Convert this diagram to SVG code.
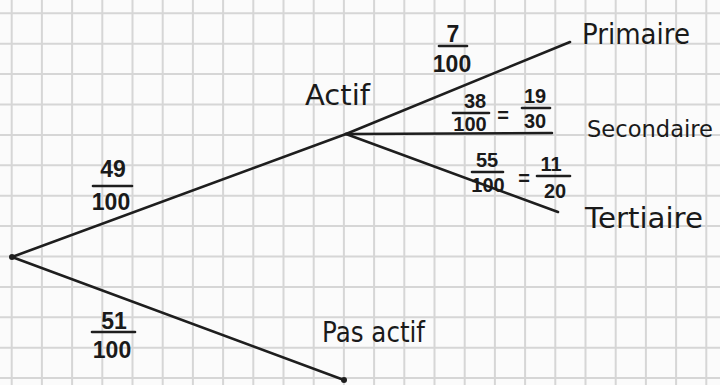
<svg xmlns="http://www.w3.org/2000/svg" width="720" height="385" viewBox="0 0 720 385">
<style>
.grid{stroke:#d6d6d6;stroke-width:2;fill:none}
.edge{stroke:#1e1e1e;stroke-width:2.6;fill:none;stroke-linecap:round}
.bar{stroke:#1e1e1e;stroke-width:2.6;stroke-linecap:round}
.lbl{font-family:"DejaVu Sans","Liberation Sans",sans-serif;fill:#1a1a1a;font-size:28px}
.num{font-family:"Liberation Sans","DejaVu Sans",sans-serif;fill:#1a1a1a;font-size:23px;font-weight:bold;text-anchor:middle}
.sm{font-size:20px}
.dot{fill:#1e1e1e}
</style>
<rect x="0" y="0" width="720" height="385" fill="#fbfbfb"/>
<path class="grid" d="M11.7 0V385M41.9 0V385M72.1 0V385M102.3 0V385M132.5 0V385M162.7 0V385M192.9 0V385M223.1 0V385M253.3 0V385M283.5 0V385M313.7 0V385M343.9 0V385M374.1 0V385M404.3 0V385M434.5 0V385M464.7 0V385M494.9 0V385M525.1 0V385M555.3 0V385M585.5 0V385M615.7 0V385M645.9 0V385M676.1 0V385M706.3 0V385M0 13.3H720M0 43.7H720M0 74.1H720M0 104.5H720M0 134.9H720M0 165.3H720M0 195.7H720M0 226.1H720M0 256.5H720M0 286.9H720M0 317.3H720M0 347.7H720M0 378.1H720"/>
<g id="connectors">
  <line class="edge" x1="12" y1="257" x2="346" y2="134"/>
  <line class="edge" x1="12" y1="257" x2="344" y2="380"/>
  <line class="edge" x1="346" y1="134" x2="570" y2="42"/>
  <line class="edge" x1="346" y1="134" x2="552" y2="133"/>
  <line class="edge" x1="346" y1="134" x2="558" y2="212"/>
  <g id="p-actif">
    <text class="num" x="113" y="177">49</text>
    <line class="bar" x1="93" y1="186" x2="132" y2="186"/>
    <text class="num" x="111" y="210">100</text>
  </g>
  <g id="p-pasactif">
    <text class="num" x="114" y="329">51</text>
    <line class="bar" x1="92" y1="332" x2="135" y2="332"/>
    <text class="num" x="112" y="358">100</text>
  </g>
  <g id="p-primaire">
    <text class="num" x="453" y="42">7</text>
    <line class="bar" x1="439" y1="46" x2="467" y2="46"/>
    <text class="num" x="452" y="72">100</text>
  </g>
  <g id="p-secondaire">
    <text class="num sm" x="475" y="108">38</text>
    <line class="bar" x1="453" y1="113" x2="489" y2="113"/>
    <text class="num sm" x="470" y="131">100</text>
    <text class="num sm" x="503" y="122">=</text>
    <text class="num sm" x="535" y="103">19</text>
    <line class="bar" x1="522" y1="108" x2="550" y2="108"/>
    <text class="num sm" x="535" y="128">30</text>
  </g>
  <g id="p-tertiaire">
    <text class="num sm" x="487" y="167">55</text>
    <line class="bar" x1="472" y1="172" x2="503" y2="172"/>
    <text class="num sm" x="488" y="192">100</text>
    <text class="num sm" x="524" y="185">=</text>
    <text class="num sm" x="551" y="171">11</text>
    <line class="bar" x1="537" y1="176" x2="570" y2="176"/>
    <text class="num sm" x="555" y="198">20</text>
  </g>
</g>
<g id="root"><circle class="dot" cx="12" cy="257" r="3"/></g>
<g id="actif"><text class="lbl" x="305" y="105" textLength="65" lengthAdjust="spacingAndGlyphs">Actif</text></g>
<g id="pas-actif"><circle class="dot" cx="344" cy="380" r="3"/><text class="lbl" x="322" y="342" textLength="103" lengthAdjust="spacingAndGlyphs">Pas actif</text></g>
<g id="primaire"><text class="lbl" x="582" y="44" textLength="108" lengthAdjust="spacingAndGlyphs">Primaire</text></g>
<g id="secondaire"><text class="lbl" x="587" y="137" style="font-size:23px" textLength="126" lengthAdjust="spacingAndGlyphs">Secondaire</text></g>
<g id="tertiaire"><text class="lbl" x="585" y="228" textLength="118" lengthAdjust="spacingAndGlyphs">Tertiaire</text></g>
</svg>
